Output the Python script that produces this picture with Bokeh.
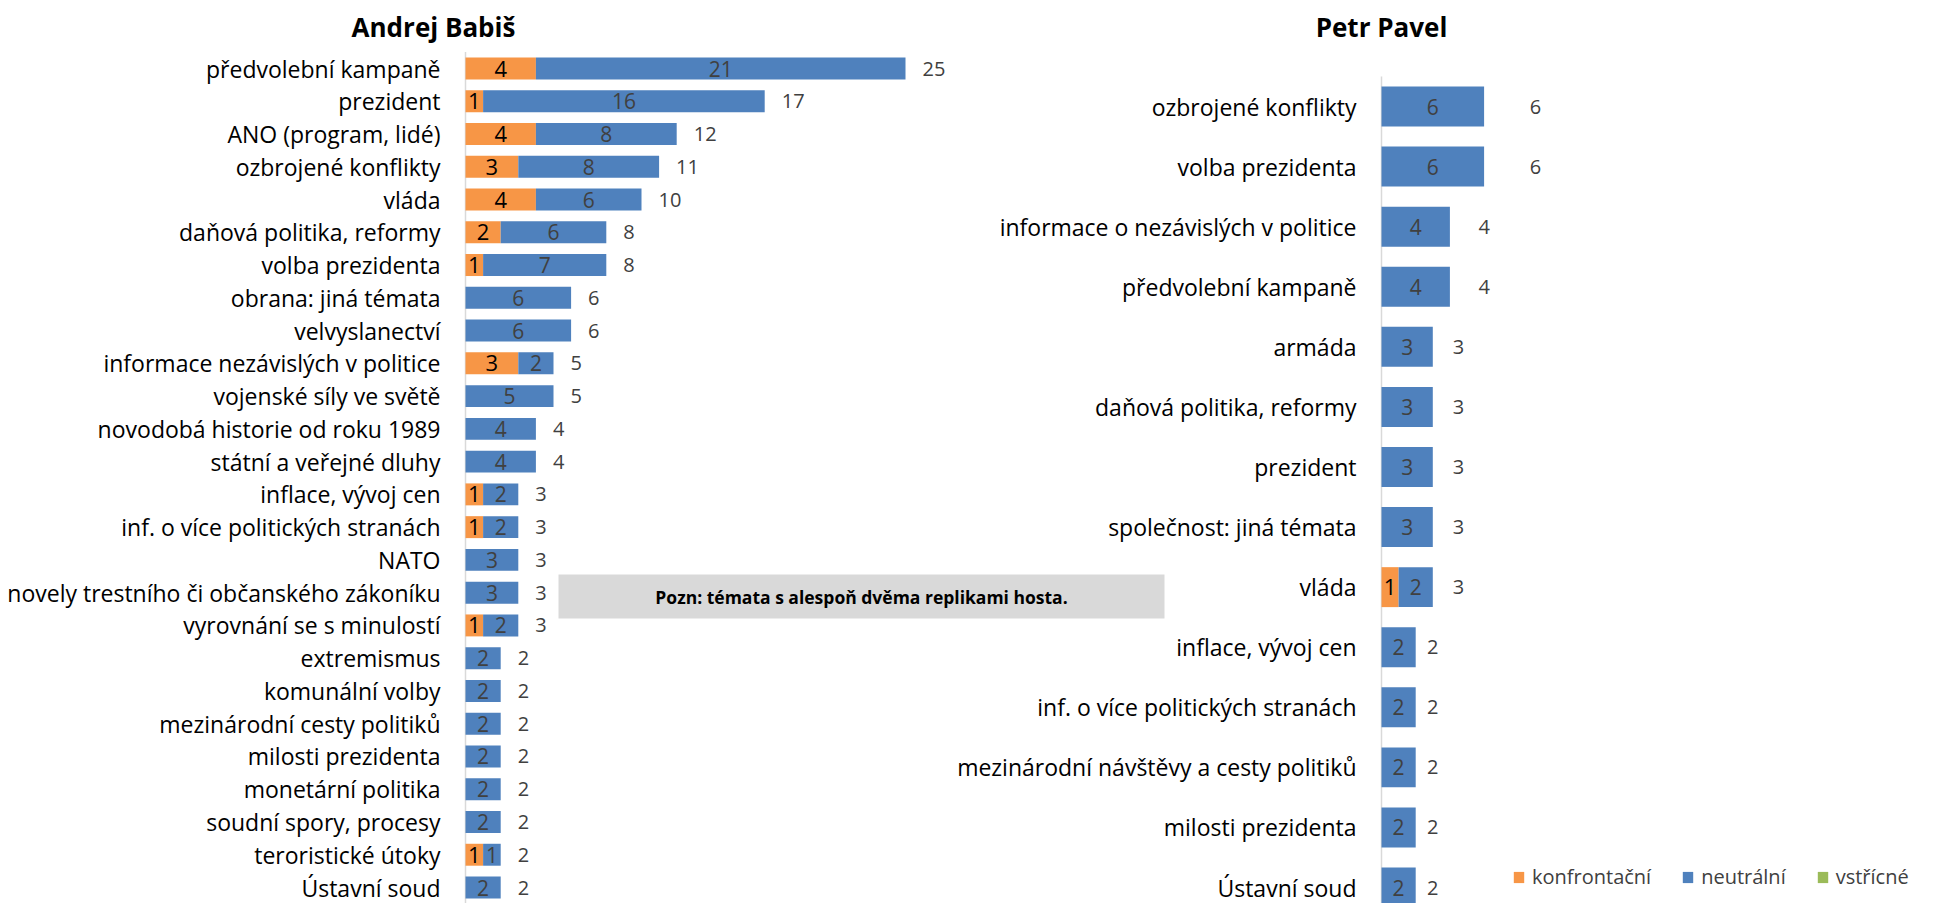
from bokeh.plotting import figure
from bokeh.models import Range1d, ColumnDataSource, Legend, LegendItem
from bokeh.core.properties import value
from bokeh.embed import file_html
from bokeh.resources import INLINE

# ---------------- data ----------------
series_names = ["konfrontační", "neutrální", "vstřícné"]

cats_left = ["předvolební kampaně", "prezident", "ANO (program, lidé)", "ozbrojené konflikty",
             "vláda", "daňová politika, reformy", "volba prezidenta", "obrana: jiná témata",
             "velvyslanectví", "informace nezávislých v politice", "vojenské síly ve světě",
             "novodobá historie od roku 1989", "státní a veřejné dluhy", "inflace, vývoj cen",
             "inf. o více politických stranách", "NATO", "novely trestního či občanského zákoníku",
             "vyrovnání se s minulostí", "extremismus", "komunální volby",
             "mezinárodní cesty politiků", "milosti prezidenta", "monetární politika",
             "soudní spory, procesy", "teroristické útoky", "Ústavní soud"]
konf_left = [4, 1, 4, 3, 4, 2, 1, 0, 0, 3, 0, 0, 0, 1, 1, 0, 0, 1, 0, 0, 0, 0, 0, 0, 1, 0]
neut_left = [21, 16, 8, 8, 6, 6, 7, 6, 6, 2, 5, 4, 4, 2, 2, 3, 3, 2, 2, 2, 2, 2, 2, 2, 1, 2]
vstr_left = [0] * len(cats_left)

cats_right = ["ozbrojené konflikty", "volba prezidenta", "informace o nezávislých v politice",
              "předvolební kampaně", "armáda", "daňová politika, reformy", "prezident",
              "společnost: jiná témata", "vláda", "inflace, vývoj cen",
              "inf. o více politických stranách", "mezinárodní návštěvy a cesty politiků",
              "milosti prezidenta", "Ústavní soud"]
konf_right = [0, 0, 0, 0, 0, 0, 0, 0, 1, 0, 0, 0, 0, 0]
neut_right = [6, 6, 4, 4, 3, 3, 3, 3, 2, 2, 2, 2, 2, 2]
vstr_right = [0] * len(cats_right)

title_left = "Andrej Babiš"
title_right = "Petr Pavel"
note_text = "Pozn: témata s alespoň dvěma replikami hosta."

# ---------------- styles ----------------
ORANGE = "#F79646"
BLUE = "#4F81BD"
GREEN = "#9BBB59"
FONT = "Open Sans"
W, H = 1923, 903

# pixel geometry (figure coordinates)
L_AXIS_X, L_PX_PER_UNIT = 465, 17.6
L_FIRST_Y, L_PITCH = 68, 32.76
R_AXIS_X, R_PX_PER_UNIT = 1381, 17.1
R_FIRST_Y, R_PITCH = 106, 60.08

p = figure(width=W, height=H, output_backend="svg", toolbar_location=None,
           x_range=Range1d(-L_AXIS_X / L_PX_PER_UNIT, (W - L_AXIS_X) / L_PX_PER_UNIT),
           y_range=Range1d(-(H - L_FIRST_Y) / L_PITCH, L_FIRST_Y / L_PITCH),
           x_axis_location=None, y_axis_location=None,
           min_border=0, outline_line_color=None)
p.grid.visible = False
p.extra_x_ranges = {"rx": Range1d(-R_AXIS_X / R_PX_PER_UNIT, (W - R_AXIS_X) / R_PX_PER_UNIT)}
p.extra_y_ranges = {"ry": Range1d(-(H - R_FIRST_Y) / R_PITCH, R_FIRST_Y / R_PITCH)}


def build(cats, konf, neut, vstr):
    n = len(cats)
    y = [-i for i in range(n)]
    k_end = list(konf)
    n_end = [k + v for k, v in zip(konf, neut)]
    total = [k + v + s for k, v, s in zip(konf, neut, vstr)]
    main = ColumnDataSource(dict(cat=cats, y=y, k_end=k_end, n_end=n_end, total=total,
                                 total_txt=[str(t) for t in total],
                                 tot15=[1.5 * t for t in total]))
    ko = ColumnDataSource(dict(y=[y[i] for i in range(n) if konf[i] > 0],
                               x=[konf[i] / 2 for i in range(n) if konf[i] > 0],
                               t=[str(konf[i]) for i in range(n) if konf[i] > 0]))
    ne = ColumnDataSource(dict(y=[y[i] for i in range(n) if neut[i] > 0],
                               x=[konf[i] + neut[i] / 2 for i in range(n) if neut[i] > 0],
                               t=[str(neut[i]) for i in range(n) if neut[i] > 0]))
    return main, ko, ne, n


def draw(cats, konf, neut, vstr, bar_h, right_side):
    main, ko, ne, n = build(cats, konf, neut, vstr)
    kw = dict(x_range_name="rx", y_range_name="ry") if right_side else {}
    # axis line
    p.segment(x0=[0], y0=[0.5], x1=[0], y1=[-(n - 0.5)], line_color="#D9D9D9",
              line_width=1.5, **kw)
    r1 = p.hbar(y="y", left=0, right="k_end", height=bar_h, source=main,
                fill_color=ORANGE, line_color=None, **kw)
    r2 = p.hbar(y="y", left="k_end", right="n_end", height=bar_h, source=main,
                fill_color=BLUE, line_color=None, **kw)
    r3 = p.hbar(y="y", left="n_end", right="total", height=bar_h, source=main,
                fill_color=GREEN, line_color=None, **kw)
    # category labels
    p.text(x=0, y="y", text="cat", source=main, x_offset=-25, text_align="right",
           text_baseline="middle", text_font=value(FONT), text_font_size="23px",
           text_color="#000000", **kw)
    # segment labels
    p.text(x="x", y="y", text="t", source=ko, text_align="center", text_baseline="middle",
           text_font=value(FONT), text_font_size="22px", text_color="#000000", **kw)
    p.text(x="x", y="y", text="t", source=ne, text_align="center", text_baseline="middle",
           text_font=value(FONT), text_font_size="21px", text_color="#404040", **kw)
    # totals
    if right_side:
        p.text(x="tot15", y="y", text="total_txt", source=main, text_align="center",
               text_baseline="middle", text_font=value(FONT), text_font_size="20px",
               text_color="#404040", **kw)
    else:
        p.text(x="total", y="y", text="total_txt", source=main, x_offset=17,
               text_align="left", text_baseline="middle", text_font=value(FONT),
               text_font_size="20px", text_color="#404040", **kw)
    return r1, r2, r3


rl = draw(cats_left, konf_left, neut_left, vstr_left, 0.67, False)
rr = draw(cats_right, konf_right, neut_right, vstr_right, 0.665, True)

# titles
p.text(x=[(441 - 8 - L_AXIS_X) / L_PX_PER_UNIT], y=[(L_FIRST_Y - 26) / L_PITCH],
       text=[title_left], text_align="center", text_baseline="alphabetic",
       text_font=value(FONT), text_font_style="bold", text_font_size="26px",
       text_color="#000000")
p.text(x=[0], y=[(R_FIRST_Y - 26) / R_PITCH], text=[title_right], text_align="center",
       text_baseline="alphabetic", text_font=value(FONT), text_font_style="bold",
       text_font_size="26px", text_color="#000000", x_range_name="rx", y_range_name="ry")

# note box
bx0 = (566 - 8 - L_AXIS_X) / L_PX_PER_UNIT
bx1 = (1172 - 8 - L_AXIS_X) / L_PX_PER_UNIT
by0 = (L_FIRST_Y - (582 - 8)) / L_PITCH
by1 = (L_FIRST_Y - (626 - 8)) / L_PITCH
p.quad(left=[bx0], right=[bx1], top=[by0], bottom=[by1], fill_color="#D9D9D9",
       line_color=None)
p.text(x=[(bx0 + bx1) / 2], y=[(by0 + by1) / 2], text=[note_text], text_align="center",
       text_baseline="middle", text_font=value(FONT), text_font_style="bold",
       text_font_size="17.5px", text_color="#000000")

# legend
legend = Legend(items=[LegendItem(label=series_names[0], renderers=[rl[0]]),
                       LegendItem(label=series_names[1], renderers=[rl[1]]),
                       LegendItem(label=series_names[2], renderers=[rl[2]])],
                orientation="horizontal", location=(1512, 13),
                label_text_font=FONT, label_text_font_size="20px",
                label_text_color="#404040", glyph_width=13, glyph_height=14,
                label_standoff=7, spacing=30, padding=0, margin=0,
                border_line_color=None, background_fill_alpha=0)
p.add_layout(legend)

open("out.html", "w").write(file_html(p, INLINE))
